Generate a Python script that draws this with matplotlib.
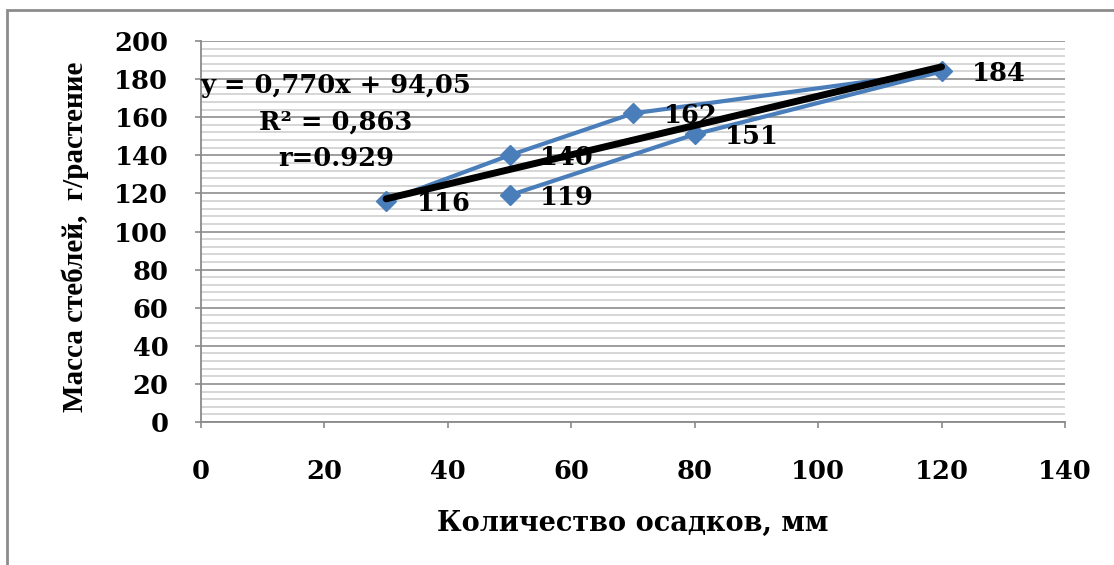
import matplotlib
matplotlib.use('Agg')
import matplotlib.pyplot as plt
from matplotlib.patches import Rectangle
import numpy as np

# data (order follows the drawn line)
rain_mm = [30, 50, 70, 120, 80, 50]
stem_mass = [116, 140, 162, 184, 151, 119]
point_labels = ['116', '140', '162', '184', '151', '119']
trend_slope = 0.770
trend_icept = 94.05
eq_lines = ['y = 0,770x + 94,05', 'R² = 0,863', 'r=0.929']

x_ticks = [0, 20, 40, 60, 80, 100, 120, 140]
y_ticks = [0, 20, 40, 60, 80, 100, 120, 140, 160, 180, 200]

# the source text is a horizontally stretched Times; a wide serif matches its box better
WIDE = ['DejaVu Serif']
plt.rcParams['font.family'] = WIDE
plt.rcParams['font.weight'] = 'bold'

W, H = 1114, 565
fig = plt.figure(figsize=(W / 100, H / 100), dpi=100)
ax = fig.add_axes([201 / W, 1 - 422 / H, (1065 - 201) / W, (422 - 41) / H])

# outer chart frame (only left/top edges visible in the crop)
fig.patches.append(Rectangle((7 / W, -0.1), 1.2, 1 - 10 / H + 0.1,
                             transform=fig.transFigure, fill=False,
                             edgecolor='#8c8c8c', lw=2))

# gridlines: minor every 4, major every 20
for yv in np.arange(0, 201, 4):
    major = yv % 20 == 0
    ax.axhline(yv, color='#8e8e8e' if major else '#cbcbcb',
               lw=1.2 if major else 1.1, zorder=0)

ax.plot(rain_mm, stem_mass, color='#4a7ebb', lw=3, marker='D', ms=10,
        zorder=3)

xt = np.array([min(rain_mm), max(rain_mm)])
ax.plot(xt, trend_slope * xt + trend_icept, color='black', lw=5,
        solid_capstyle='round', zorder=4)

for xv, yv, lab in zip(rain_mm, stem_mass, point_labels):
    ax.annotate(lab, (xv, yv), xytext=(22, -1.5), textcoords='offset points',
                fontsize=18.5, fontweight='bold', ha='left', va='center', zorder=5)

eq_y = [86, 122, 158]
for txt, py in zip(eq_lines, eq_y):
    fig.text(336 / W, 1 - py / H, txt, fontsize=18.5, fontweight='bold',
             ha='center', va='center')

ax.set_xlim(0, 140)
ax.set_ylim(0, 200)
ax.set_xticks(x_ticks)
ax.set_yticks(y_ticks)
ax.tick_params(axis='both', labelsize=18.5, length=4.5, width=1.2, color='#8a8a8a')
ax.tick_params(axis='x', pad=22)
ax.tick_params(axis='y', pad=19)
for lab in ax.get_xticklabels() + ax.get_yticklabels():
    lab.set_fontweight('bold')
for side in ['top', 'right']:
    ax.spines[side].set_visible(False)
for side in ['left', 'bottom']:
    ax.spines[side].set_color('#8a8a8a')
    ax.spines[side].set_linewidth(1.3)

fig.text(633 / W, 1 - 523 / H, 'Количество осадков, мм', fontsize=19.5,
         fontweight='bold', ha='center', va='center')
fig.text(75 / W, 1 - 237 / H, 'Масса стеблей,  г/растение', fontsize=21,
         fontweight='bold', ha='center', va='center', rotation=90,
         family=['Liberation Serif', 'DejaVu Serif'])

fig.savefig('out.png', dpi=100)
